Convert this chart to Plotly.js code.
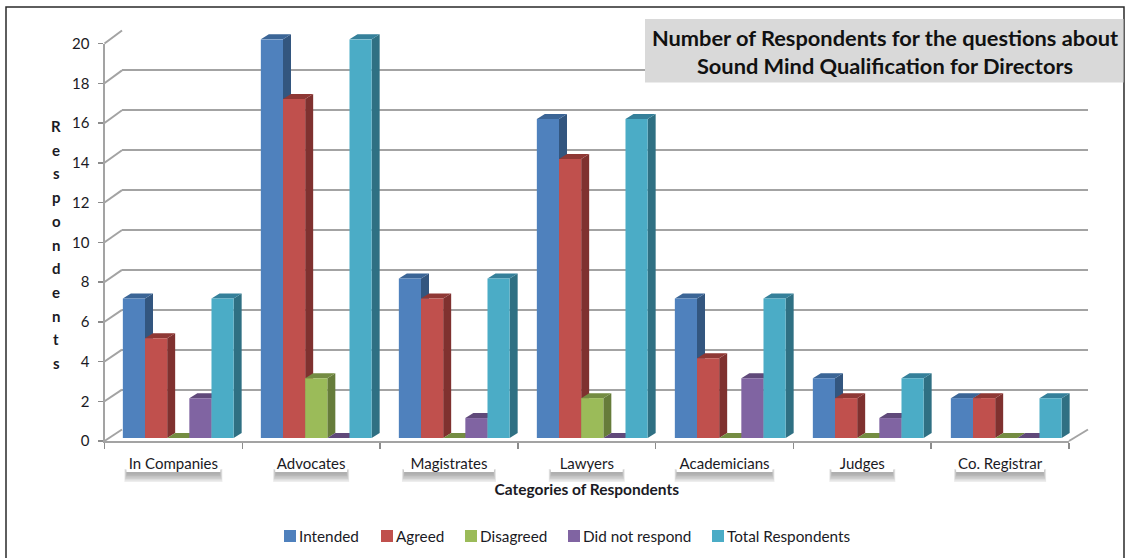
<!DOCTYPE html>
<html>
<head>
<meta charset="utf-8">
<script src="https://cdn.plot.ly/plotly-3.0.1.min.js"></script>
<style>html,body{margin:0;padding:0;background:#fff;overflow:hidden}</style>
</head>
<body>
<div id="chart" style="width:1128px;height:558px"></div>
<script>
const categories = ['In Companies', 'Advocates', 'Magistrates', 'Lawyers', 'Academicians', 'Judges', 'Co. Registrar'];
const intended = [7, 20, 8, 16, 7, 3, 2];
const agreed = [5, 17, 7, 14, 4, 2, 2];
const disagreed = [0, 3, 0, 2, 0, 0, 0];
const didNotRespond = [2, 0, 1, 0, 3, 1, 0];
const totalRespondents = [7, 20, 8, 16, 7, 3, 2];
const yTicks = [0, 2, 4, 6, 8, 10, 12, 14, 16, 18, 20];

const seriesList = [
  { name: 'Intended', values: intended, front: '#4F81BD', top: '#3B6596', side: '#33567F', width: 52 },
  { name: 'Agreed', values: agreed, front: '#C0504D', top: '#8F3835', side: '#7F312F', width: 39 },
  { name: 'Disagreed', values: disagreed, front: '#9BBB59', top: '#748C42', side: '#667C3A', width: 58 },
  { name: 'Did not respond', values: didNotRespond, front: '#8064A2', top: '#60497A', side: '#554069', width: 99 },
  { name: 'Total Respondents', values: totalRespondents, front: '#4BACC6', top: '#35809A', side: '#2F7083', width: 160 }
];

const W = 1128, H = 558;
const FONT = 'Lato, "Open Sans", sans-serif';
const INK = '#1a1a24';
const GRID = '#A3A3A3';
const px = x => x / W;
const py = y => 1 - y / H;

// Front plane (axes), back wall and bar plane of the pseudo-3D box, in pixels.
const front = { l: 104.5, r: 1069, y0: 441, y20: 43.5 };
const back = { l: 122, r: 1088, y0: 429.5, y20: 30.5 };
const bars = { l: 109.25, r: 1075.25, y0: 438, y20: 39.3 };
const bargap = 0.197;
const depthX = 8, depthY = 5;

const unitX = (bars.r - bars.l) / categories.length;
const unitY = (bars.y0 - bars.y20) / 20;
const dx = depthX / unitX, dy = depthY / unitY;
const barWidth = (1 - bargap) / seriesList.length;

// Top and side faces of every bar, derived from the same values as the fronts.
function depthTraces(series, j) {
  const topX = [], topY = [], sideX = [], sideY = [];
  series.values.forEach((v, i) => {
    const a = i - (1 - bargap) / 2 + j * barWidth, b = a + barWidth;
    topX.push(a, b, b + dx, a + dx, a, null);
    topY.push(v, v, v + dy, v + dy, v, null);
    sideX.push(b, b + dx, b + dx, b, b, null);
    sideY.push(v, v + dy, dy, 0, v, null);
  });
  const face = (x, y, color) => ({
    type: 'scatter', mode: 'lines', x, y, xaxis: 'x3', yaxis: 'y3',
    fill: 'toself', fillcolor: color, line: { width: 0, color },
    showlegend: false, hoverinfo: 'skip'
  });
  return [face(sideX, sideY, series.side), face(topX, topY, series.top)];
}

const placeholder = (xa, ya) => ({
  type: 'scatter', mode: 'markers', x: categories, y: categories.map(() => 0),
  xaxis: xa, yaxis: ya, marker: { opacity: 0 }, showlegend: false, hoverinfo: 'skip'
});

const data = [
  placeholder('x', 'y'),
  placeholder('x2', 'y2')
];
seriesList.forEach((s, j) => data.push(...depthTraces(s, j)));
seriesList.forEach(s => data.push({
  type: 'bar', name: s.name,
  x: categories.map((_, i) => i), y: s.values,
  xaxis: 'x4', yaxis: 'y4',
  marker: { color: s.front, line: { width: 0 } },
  legendwidth: s.width
}));

const hidden = {
  showgrid: false, zeroline: false, showline: false, showticklabels: false, ticks: ''
};
const rangeX = [-0.5, categories.length - 0.5];

const layout = {
  width: W, height: H,
  margin: { l: 0, r: 0, t: 0, b: 0 },
  paper_bgcolor: '#fff', plot_bgcolor: 'rgba(0,0,0,0)',
  barmode: 'group', bargap, bargroupgap: 0,
  hovermode: false,
  title: {
    text: 'Number of Respondents for the questions about<br>Sound Mind Qualification for Directors',
    x: px(885), xanchor: 'center', y: py(45.5), yanchor: 'middle',
    font: { family: FONT, size: 21.8, color: '#111', weight: 700 }
  },
  legend: {
    orientation: 'h', x: px(270), y: py(536), xanchor: 'left', yanchor: 'middle',
    font: { family: FONT, size: 15.3, color: INK }, bgcolor: 'rgba(0,0,0,0)',
    itemwidth: 30, traceorder: 'normal'
  },
  xaxis: {
    type: 'category', categoryorder: 'array', categoryarray: categories,
    domain: [px(front.l), px(front.r)], range: rangeX, anchor: 'y',
    tickson: 'boundaries', ticks: 'outside', ticklen: 6, tickwidth: 1.5, tickcolor: '#8c8c8c',
    ticklabelstandoff: 8,
    tickfont: { family: FONT, size: 15, color: INK },
    showgrid: false, zeroline: false, showline: true, linecolor: GRID, linewidth: 2,
    title: {
      text: '<b>Categories of Respondents</b>', standoff: 13,
      font: { family: FONT, size: 15.5, color: INK }
    }
  },
  yaxis: {
    domain: [py(front.y0), py(front.y20)], range: [0, 20], anchor: 'x',
    tickmode: 'array', tickvals: yTicks, ticktext: yTicks.map(String),
    ticks: 'outside', ticklen: 5, tickwidth: 1.5, tickcolor: '#8c8c8c',
    ticklabelstandoff: 5,
    tickfont: { family: FONT, size: 15, color: INK },
    showgrid: false, zeroline: false, showline: true, linecolor: GRID, linewidth: 2
  },
  // Back wall carrying the gridlines.
  xaxis2: { ...hidden, type: 'category', categoryorder: 'array', categoryarray: categories,
    domain: [px(back.l), px(back.r)], range: rangeX, anchor: 'y2' },
  yaxis2: { ...hidden, domain: [py(back.y0), py(back.y20)], range: [0, 20], anchor: 'x2',
    tickmode: 'array', tickvals: yTicks, showgrid: true, gridcolor: GRID, gridwidth: 2 },
  // Bar plane: depth faces underneath, front faces above them.
  xaxis3: { ...hidden, domain: [px(bars.l), px(bars.r)], range: rangeX, anchor: 'y3' },
  yaxis3: { ...hidden, domain: [py(bars.y0), py(bars.y20 - 12)], range: [0, 20 + 12 / unitY], anchor: 'x3' },
  xaxis4: { ...hidden, domain: [px(bars.l), px(bars.r)], range: rangeX, anchor: 'y4' },
  yaxis4: { ...hidden, domain: [py(bars.y0), py(bars.y20)], range: [0, 20], anchor: 'x4' },
  shapes: [],
  annotations: []
};

const paperLine = (x0, y0, x1, y1, color, width) => ({
  type: 'line', xref: 'paper', yref: 'paper', layer: 'below',
  x0: px(x0), y0: py(y0), x1: px(x1), y1: py(y1),
  line: { color, width }
});
const paperRect = (x0, y0, x1, y1, fill, opacity, layer) => ({
  type: 'rect', xref: 'paper', yref: 'paper', layer: layer || 'below',
  x0: px(x0), y0: py(y0), x1: px(x1), y1: py(y1),
  fillcolor: fill, opacity: opacity === undefined ? 1 : opacity, line: { width: 0 }
});

// Side-wall diagonals joining the axis to each gridline, plus the floor's right edge.
const frontY = v => front.y0 - v * (front.y0 - front.y20) / 20;
const backY = v => back.y0 - v * (back.y0 - back.y20) / 20;
yTicks.forEach(v => layout.shapes.push(paperLine(front.l, frontY(v), back.l, backY(v), GRID, 2)));
layout.shapes.push(paperLine(front.r, front.y0, back.r, back.y0, GRID, 2));

// Outer frame, open past the bottom of the page.
layout.shapes.push({
  type: 'rect', xref: 'paper', yref: 'paper', layer: 'below',
  x0: px(6), y0: py(575), x1: px(1124), y1: py(7),
  line: { color: '#2a2a2a', width: 1.5 }, fillcolor: 'rgba(0,0,0,0)'
});

// Title plate sits over the top gridlines.
layout.shapes.push(paperRect(645, 19, 1123.5, 82.5, '#D9D9D9', 1, 'above'));

// White category-label plates with a soft shadow beneath them.
const labelPlateWidths = [94, 72, 90, 72, 96, 62, 88];
categories.forEach((c, i) => {
  const cx = front.l + (i + 0.5) * (front.r - front.l) / categories.length;
  const half = labelPlateWidths[i] / 2;
  for (let k = 0; k < 6; k++) {
    layout.shapes.push(paperRect(cx - half - 2 + k * 0.5, 469 + k * 0.4, cx + half + 2 - k * 0.5, 482 - k * 1.5, '#777', 0.13));
  }
  layout.shapes.push(paperRect(cx - half, 455, cx + half, 472, '#fff'));
});

// Vertical axis caption, one letter per row.
'Respondents'.split('').forEach((letter, i) => layout.annotations.push({
  xref: 'paper', yref: 'paper', x: px(56), y: py(126 + i * 23.7),
  xanchor: 'center', yanchor: 'middle', showarrow: false,
  text: '<b>' + letter + '</b>', font: { family: FONT, size: 15, color: INK }
}));

Plotly.newPlot('chart', data, layout, { displayModeBar: false, staticPlot: true }).then(gd => {
  // Tighten the legend: smaller swatches, with the names closer to them.
  gd.querySelectorAll('.legend .legendbar path').forEach(p => p.setAttribute('d', 'M5,5H-5V-5H5Z'));
  gd.querySelectorAll('.legend .legendtext').forEach(t => {
    t.setAttribute('x', parseFloat(t.getAttribute('x')) - 11);
  });
});
</script>
</body>
</html>
